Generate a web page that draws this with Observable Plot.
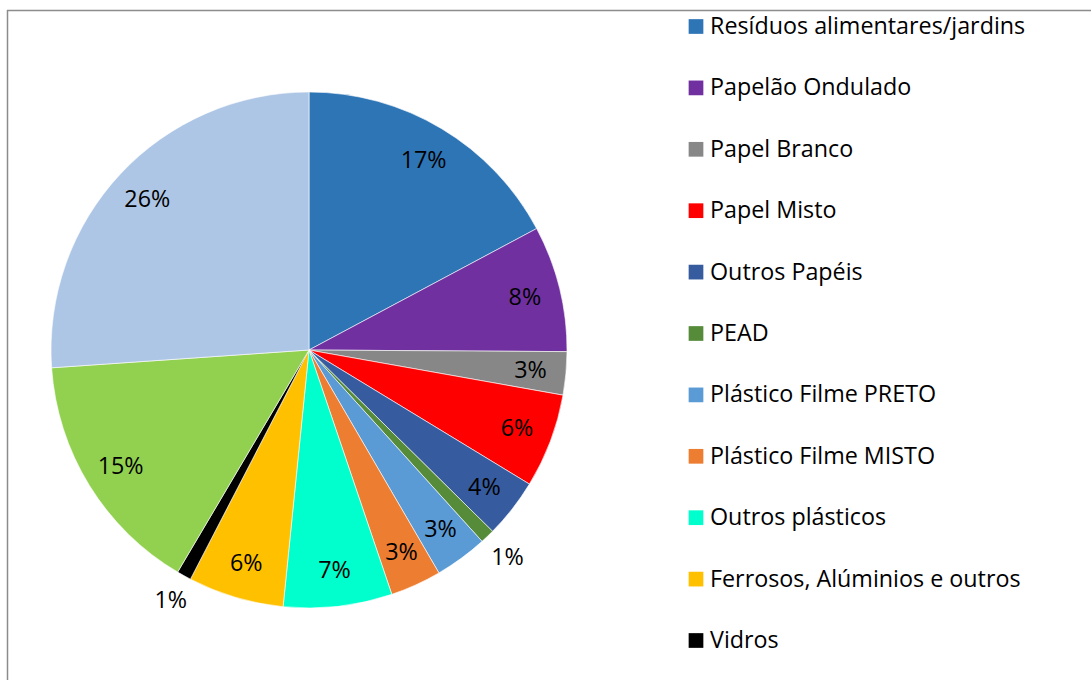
<!DOCTYPE html>
<html><head><meta charset="utf-8">
<script src="https://cdn.jsdelivr.net/npm/d3@7"></script>
<script src="https://cdn.jsdelivr.net/npm/@observablehq/plot@0.6"></script>
<style>body{margin:0;background:#fff;} svg{display:block;}</style>
</head><body><div id="chart"></div>
<script>
// Data
const categories = [
  "Resíduos alimentares/jardins",
  "Papelão Ondulado",
  "Papel Branco",
  "Papel Misto",
  "Outros Papéis",
  "PEAD",
  "Plástico Filme PRETO",
  "Plástico Filme MISTO",
  "Outros plásticos",
  "Ferrosos, Alúminios e outros",
  "Vidros",
  "Categoria 12",
  "Categoria 13"
];
const values = [17.2, 7.9, 2.7, 5.9, 3.7, 0.9, 3.3, 3.2, 6.8, 6.0, 0.9, 15.4, 26.1];
const colors = ["#2E75B6", "#7030A0", "#878787", "#FF0000", "#365C9F", "#568B3A", "#5B9BD5", "#ED7D31", "#00FFCC", "#FFC000", "#000000", "#92D050", "#AEC6E6"];
const legendCategories = categories.slice(0, 11);

// Layout
const W = 1091, H = 680, CX = 309, CY = 350, R = 258;
const FONT = "'Open Sans', sans-serif";
const FS = 23.3;

const data = categories.map((c, i) => ({category: c, value: values[i]}));
const arcs = d3.pie().sort(null).value(d => d.value)(data);
const total = d3.sum(values);

const labelData = arcs.map(a => {
  const mid = (a.startAngle + a.endAngle) / 2;
  const small = a.data.value < 2;
  const rr = small ? R * 1.11 : R * 0.86;
  return {
    x: CX + rr * Math.sin(mid),
    y: CY - rr * Math.cos(mid),
    text: Math.round(a.data.value / total * 100) + "%"
  };
});

const legendData = legendCategories.map((c, i) => ({category: c, x: 695.5, y: 26 + i * 61.4}));

function pieMark(index, scales) {
  const cx = scales.x(CX), cy = scales.y(CY);
  const r = scales.x(CX + R) - scales.x(CX);
  const arc = d3.arc().innerRadius(0).outerRadius(r);
  const g = d3.create("svg:g").attr("transform", `translate(${cx},${cy})`);
  g.selectAll("path").data(arcs).join("path")
    .attr("d", arc)
    .attr("fill", d => scales.color(d.data.category))
    .attr("stroke", "#fff")
    .attr("stroke-width", 0.6);
  return g.node();
}

const chart = Plot.plot({
  width: W, height: H,
  margin: 0,
  x: {domain: [0, W], range: [0, W], axis: null},
  y: {domain: [0, H], range: [0, H], axis: null},
  color: {domain: categories, range: colors},
  style: {fontFamily: FONT, background: "#fff"},
  marks: [
    Plot.ruleY([10], {x1: 7, x2: W, stroke: "#8c8c8c", strokeWidth: 1.5}),
    Plot.ruleX([7], {y1: 10, y2: H, stroke: "#8c8c8c", strokeWidth: 1.5}),
    pieMark,
    Plot.text(labelData, {x: "x", y: "y", text: "text", fontSize: FS, fill: "#000", fontFamily: FONT}),
    Plot.dot(legendData, {x: "x", y: "y", fill: "category", symbol: "square", r: 8.3, stroke: null}),
    Plot.text(legendData, {x: d => d.x + 14, y: "y", text: "category", textAnchor: "start", fontSize: FS, fill: "#000", fontFamily: FONT})
  ]
});
document.getElementById("chart").appendChild(chart);
</script>
</body></html>
